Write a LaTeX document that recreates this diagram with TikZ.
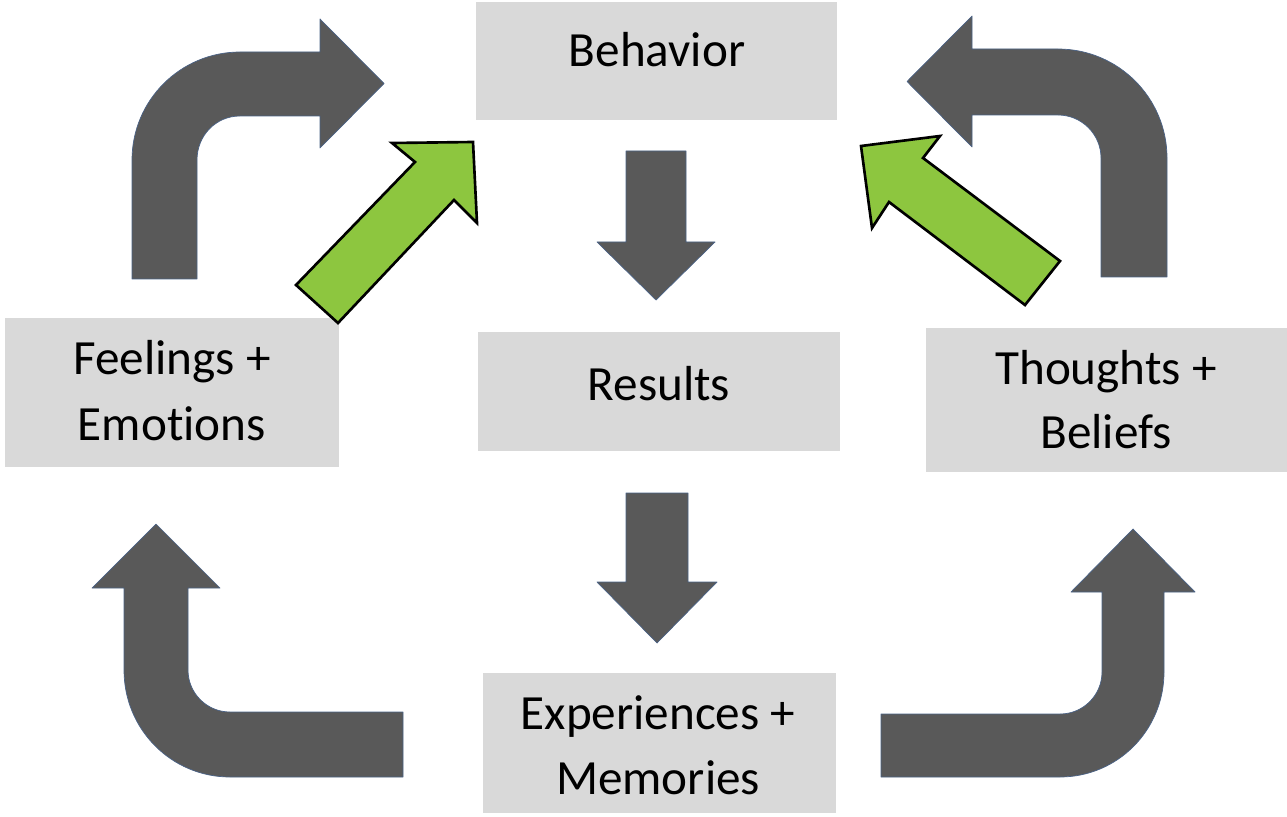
\documentclass[tikz,border=0pt]{standalone}
\usepackage{fontspec}
\setmainfont[Ligatures=NoCommon, RawFeature={-liga;-clig;-dlig}]{Carlito}
\definecolor{boxgray}{HTML}{D9D9D9}
\definecolor{arrgray}{HTML}{595959}
\definecolor{arredge}{HTML}{4A6286}
\definecolor{leaf}{HTML}{8DC63F}
\tikzset{
  box/.style={rectangle, fill=boxgray, draw=none, inner sep=0pt},
  lbl/.style={anchor=base, inner sep=0pt, font=\fontsize{28}{33}\selectfont, text=black},
  blockarrow/.style={fill=arrgray, draw=arredge, line width=0.4pt, line join=round},
  greenarrow/.style={fill=leaf, draw=black, line width=1.5pt, line join=miter}
}
\begin{document}
\begin{tikzpicture}[x=0.02cm, y=-0.02cm]
\useasboundingbox (0,0) rectangle (1287,817);
% boxes
\node[box, minimum width=7.22cm, minimum height=2.36cm] (beh) at (656.5,61) {};
\node[box, minimum width=7.24cm, minimum height=2.38cm] (res) at (659,391.5) {};
\node[box, minimum width=6.68cm, minimum height=2.98cm] (fee) at (172,392.5) {};
\node[box, minimum width=7.22cm, minimum height=2.88cm] (tho) at (1106.5,400) {};
\node[box, minimum width=7.06cm, minimum height=2.80cm] (exp) at (659.5,743) {};
% labels
\node[lbl] (behT) at (657,67) {Behavior};
\node[lbl] (resT) at (659,400) {Results};
\node[lbl] (feeT1) at (172,374) {Feelings +};
\node[lbl] (feeT2) at (172,440) {Emot\kern0pt ions};
\node[lbl] (thoT1) at (1106,384) {Thoughts +};
\node[lbl] (thoT2) at (1106,448) {Beliefs};
\node[lbl] (expT1) at (658,729) {Experiences +};
\node[lbl] (expT2) at (658,794) {Memories};
% bent arrows
\path[blockarrow] (132,279) -- (132,160) .. controls (132,100.4) and (180.4,52) .. (240,52) -- (320,52) -- (320,19) -- (384,83.5) -- (320,148) -- (320,116) -- (240,116) .. controls (215.7,116) and (197,135.7) .. (197,160) -- (197,279) -- cycle;
\path[blockarrow] (1167,277) -- (1167,158) .. controls (1167,97.8) and (1118.2,49) .. (1058,49) -- (972,49) -- (972,16) -- (907,81.5) -- (972,147) -- (972,115) -- (1058,115) .. controls (1081.7,115) and (1101,134.3) .. (1101,158) -- (1101,277) -- cycle;
\path[blockarrow] (403,777) -- (230,777) .. controls (171.5,777) and (124,729.5) .. (124,670) -- (124,588) -- (92,588) -- (156,524) -- (220,588) -- (188,588) -- (188,670) .. controls (188,693.2) and (206.8,712) .. (230,712) -- (403,712) -- cycle;
\path[blockarrow] (881,777) -- (1060,777) .. controls (1117.4,777) and (1164,730.4) .. (1164,672) -- (1164,592) -- (1195,592) -- (1133,529) -- (1071,592) -- (1102,592) -- (1102,672) .. controls (1102,695.2) and (1083.2,714) .. (1060,714) -- (881,714) -- cycle;
% down arrows
\path[blockarrow] (626,151) -- (686,151) -- (686,242) -- (715,242) -- (656,300) -- (597,242) -- (626,242) -- cycle;
\path[blockarrow] (626,493) -- (688,493) -- (688,582) -- (717,582) -- (657,643) -- (597,582) -- (626,582) -- cycle;
% green arrows
\path[greenarrow] (296,285) -- (415,162) -- (392,143) -- (473,142) -- (477,223) -- (454,200) -- (338,323) -- cycle;
\path[greenarrow] (1060,261) -- (923,158) -- (940,136) -- (861,146) -- (872,228) -- (889,202) -- (1025,305) -- cycle;
\end{tikzpicture}
\end{document}
